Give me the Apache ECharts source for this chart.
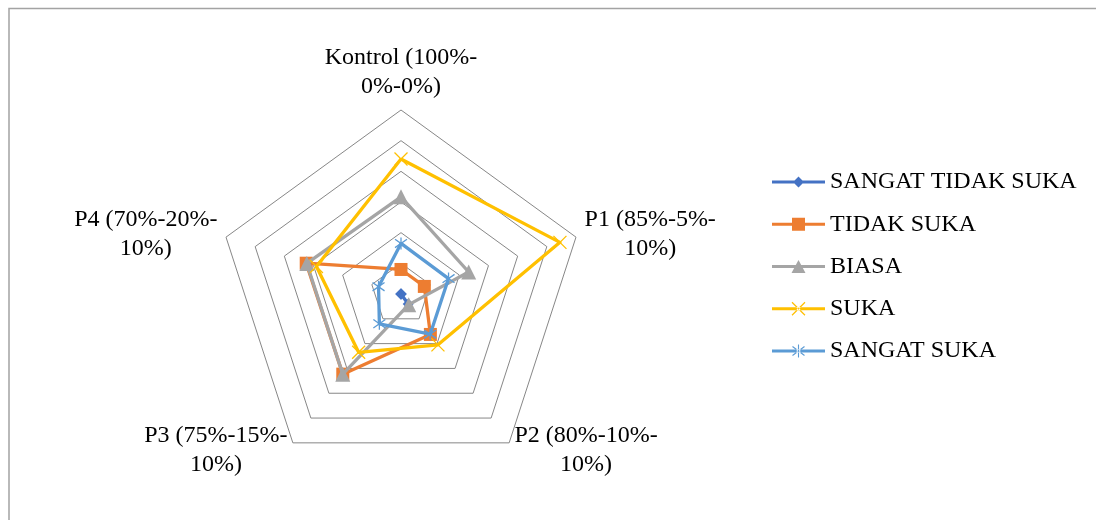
<!DOCTYPE html>
<html>
<head>
<meta charset="utf-8">
<script src="https://cdn.jsdelivr.net/npm/echarts@6/dist/echarts.min.js"></script>
<style>
  html, body { margin: 0; padding: 0; background: #fff; }
  #chart { width: 1096px; height: 520px; }
</style>
</head>
<body>
<div id="chart"></div>
<script>
// Formulations (indicators), listed clockwise from the top
const categories = [
  'Kontrol (100%-\n0%-0%)',
  'P1 (85%-5%-\n10%)',
  'P2 (80%-10%-\n10%)',
  'P3 (75%-15%-\n10%)',
  'P4 (70%-20%-\n10%)'
];

// Share of panelists (%) per hedonic score, in the same order as categories
const sangatTidakSuka = [0, 0, 4, 0, 0];
const tidakSuka       = [8, 8, 16.3, 32.3, 32.5];
const biasa           = [31.7, 23.2, 4.3, 32.3, 32.3];
const suka            = [44, 54.5, 20.5, 23.5, 29];
const sangatSuka      = [16.5, 16.3, 16.2, 12, 7.7];

const seriesNames = ['SANGAT TIDAK SUKA', 'TIDAK SUKA', 'BIASA', 'SUKA', 'SANGAT SUKA'];
const seriesValues = [sangatTidakSuka, tidakSuka, biasa, suka, sangatSuka];
const seriesColors = ['#4472C4', '#ED7D31', '#A5A5A5', '#FFC000', '#5B9BD5'];

const AXIS_MAX = 60;
const SPLITS = 6;
const FONT = '"Liberation Serif", "Times New Roman", serif';

// ECharts lays radar indicators out counter-clockwise, so walk them in reverse after the first
const order = [0, 4, 3, 2, 1];
const reorder = arr => order.map(i => arr[i]);

// Marker shapes used on the chart
const xMark = 'path://M0,0L10,10M10,0L0,10';
const starMark = 'path://M5,0L5,10M0,1.5L10,8.5M0,8.5L10,1.5';
const chartSymbols = [
  { symbol: 'diamond', size: 11, stroke: false },
  { symbol: 'rect', size: 13, stroke: false },
  { symbol: 'triangle', size: 15, stroke: false },
  { symbol: xMark, size: 13, stroke: true },
  { symbol: starMark, size: 12, stroke: true }
];

// Legend icons: a 53x14 line with the marker in the middle (filled outlines)
const bounds = 'M0,0M53,14';
const bar = 'M0,5.4L53,5.4L53,8.6L0,8.6Z';
function thinSeg(x1, y1, x2, y2, w) {
  const dx = x2 - x1, dy = y2 - y1, len = Math.hypot(dx, dy);
  const nx = -dy / len * w / 2, ny = dx / len * w / 2;
  return 'M' + (x1 + nx) + ',' + (y1 + ny) + 'L' + (x2 + nx) + ',' + (y2 + ny) +
         'L' + (x2 - nx) + ',' + (y2 - ny) + 'L' + (x1 - nx) + ',' + (y1 - ny) + 'Z';
}
const cx = 26.5, cy = 7;
const legendIcons = [
  'path://' + bounds + bar + 'M26.5,1.5L32,7L26.5,12.5L21,7Z',
  'path://' + bounds + bar + 'M20,0.5L33,0.5L33,13.5L20,13.5Z',
  'path://' + bounds + bar + 'M26.5,0.5L33.5,13.5L19.5,13.5Z',
  'path://' + bounds + bar + thinSeg(cx - 6.5, cy - 6.5, cx + 6.5, cy + 6.5, 1.2) + thinSeg(cx + 6.5, cy - 6.5, cx - 6.5, cy + 6.5, 1.2),
  'path://' + bounds + bar + thinSeg(cx, cy - 6.5, cx, cy + 6.5, 1.1) +
    thinSeg(cx - 6, cy - 4.5, cx + 6, cy + 4.5, 1.1) + thinSeg(cx - 6, cy + 4.5, cx + 6, cy - 4.5, 1.1)
];

const indicators = reorder(categories).map(name => ({ name: name, max: AXIS_MAX, min: 0 }));

const series = seriesNames.map((name, i) => {
  const s = chartSymbols[i];
  return {
    type: 'radar',
    name: name,
    symbol: s.symbol,
    symbolSize: s.size,
    z: 2 + i,
    lineStyle: { color: seriesColors[i], width: 3.3 },
    itemStyle: s.stroke
      ? { color: seriesColors[i], borderColor: seriesColors[i], borderWidth: 1.3 }
      : { color: seriesColors[i], borderWidth: 0 },
    emphasis: { disabled: true },
    data: [{ value: reorder(seriesValues[i]), name: name }]
  };
});

const chart = echarts.init(document.getElementById('chart'), null, { renderer: 'canvas' });
chart.setOption({
  animation: false,
  backgroundColor: '#ffffff',
  graphic: [{
    type: 'rect',
    shape: { x: 9, y: 8.5, width: 1200, height: 600 },
    style: { fill: 'none', stroke: '#a3a3a3', lineWidth: 1.5 },
    silent: true
  }],
  legend: {
    orient: 'vertical',
    left: 772,
    top: 168,
    padding: 0,
    itemWidth: 53,
    itemHeight: 14,
    itemGap: 14.25,
    itemStyle: { borderWidth: 0 },
    textStyle: { color: '#000', fontFamily: FONT, fontSize: 24, lineHeight: 28 },
    selectedMode: false,
    data: seriesNames.map((n, i) => ({ name: n, icon: legendIcons[i] }))
  },
  radar: {
    center: [401, 294],
    radius: 184,
    startAngle: 90,
    shape: 'polygon',
    splitNumber: SPLITS,
    indicator: indicators,
    axisNameGap: 9,
    axisName: {
      color: '#000',
      fontFamily: FONT,
      fontSize: 24,
      formatter: name => name.split('\n').map(l => '{c|' + l + '}').join('\n'),
      rich: {
        c: { align: 'center', fontFamily: FONT, fontSize: 24, lineHeight: 29, color: '#000' }
      }
    },
    axisLine: { show: false },
    axisTick: { show: false },
    axisLabel: { show: false },
    splitArea: { show: false },
    splitLine: { lineStyle: { color: '#878787', width: 1 } }
  },
  series: series
});
</script>
</body>
</html>
